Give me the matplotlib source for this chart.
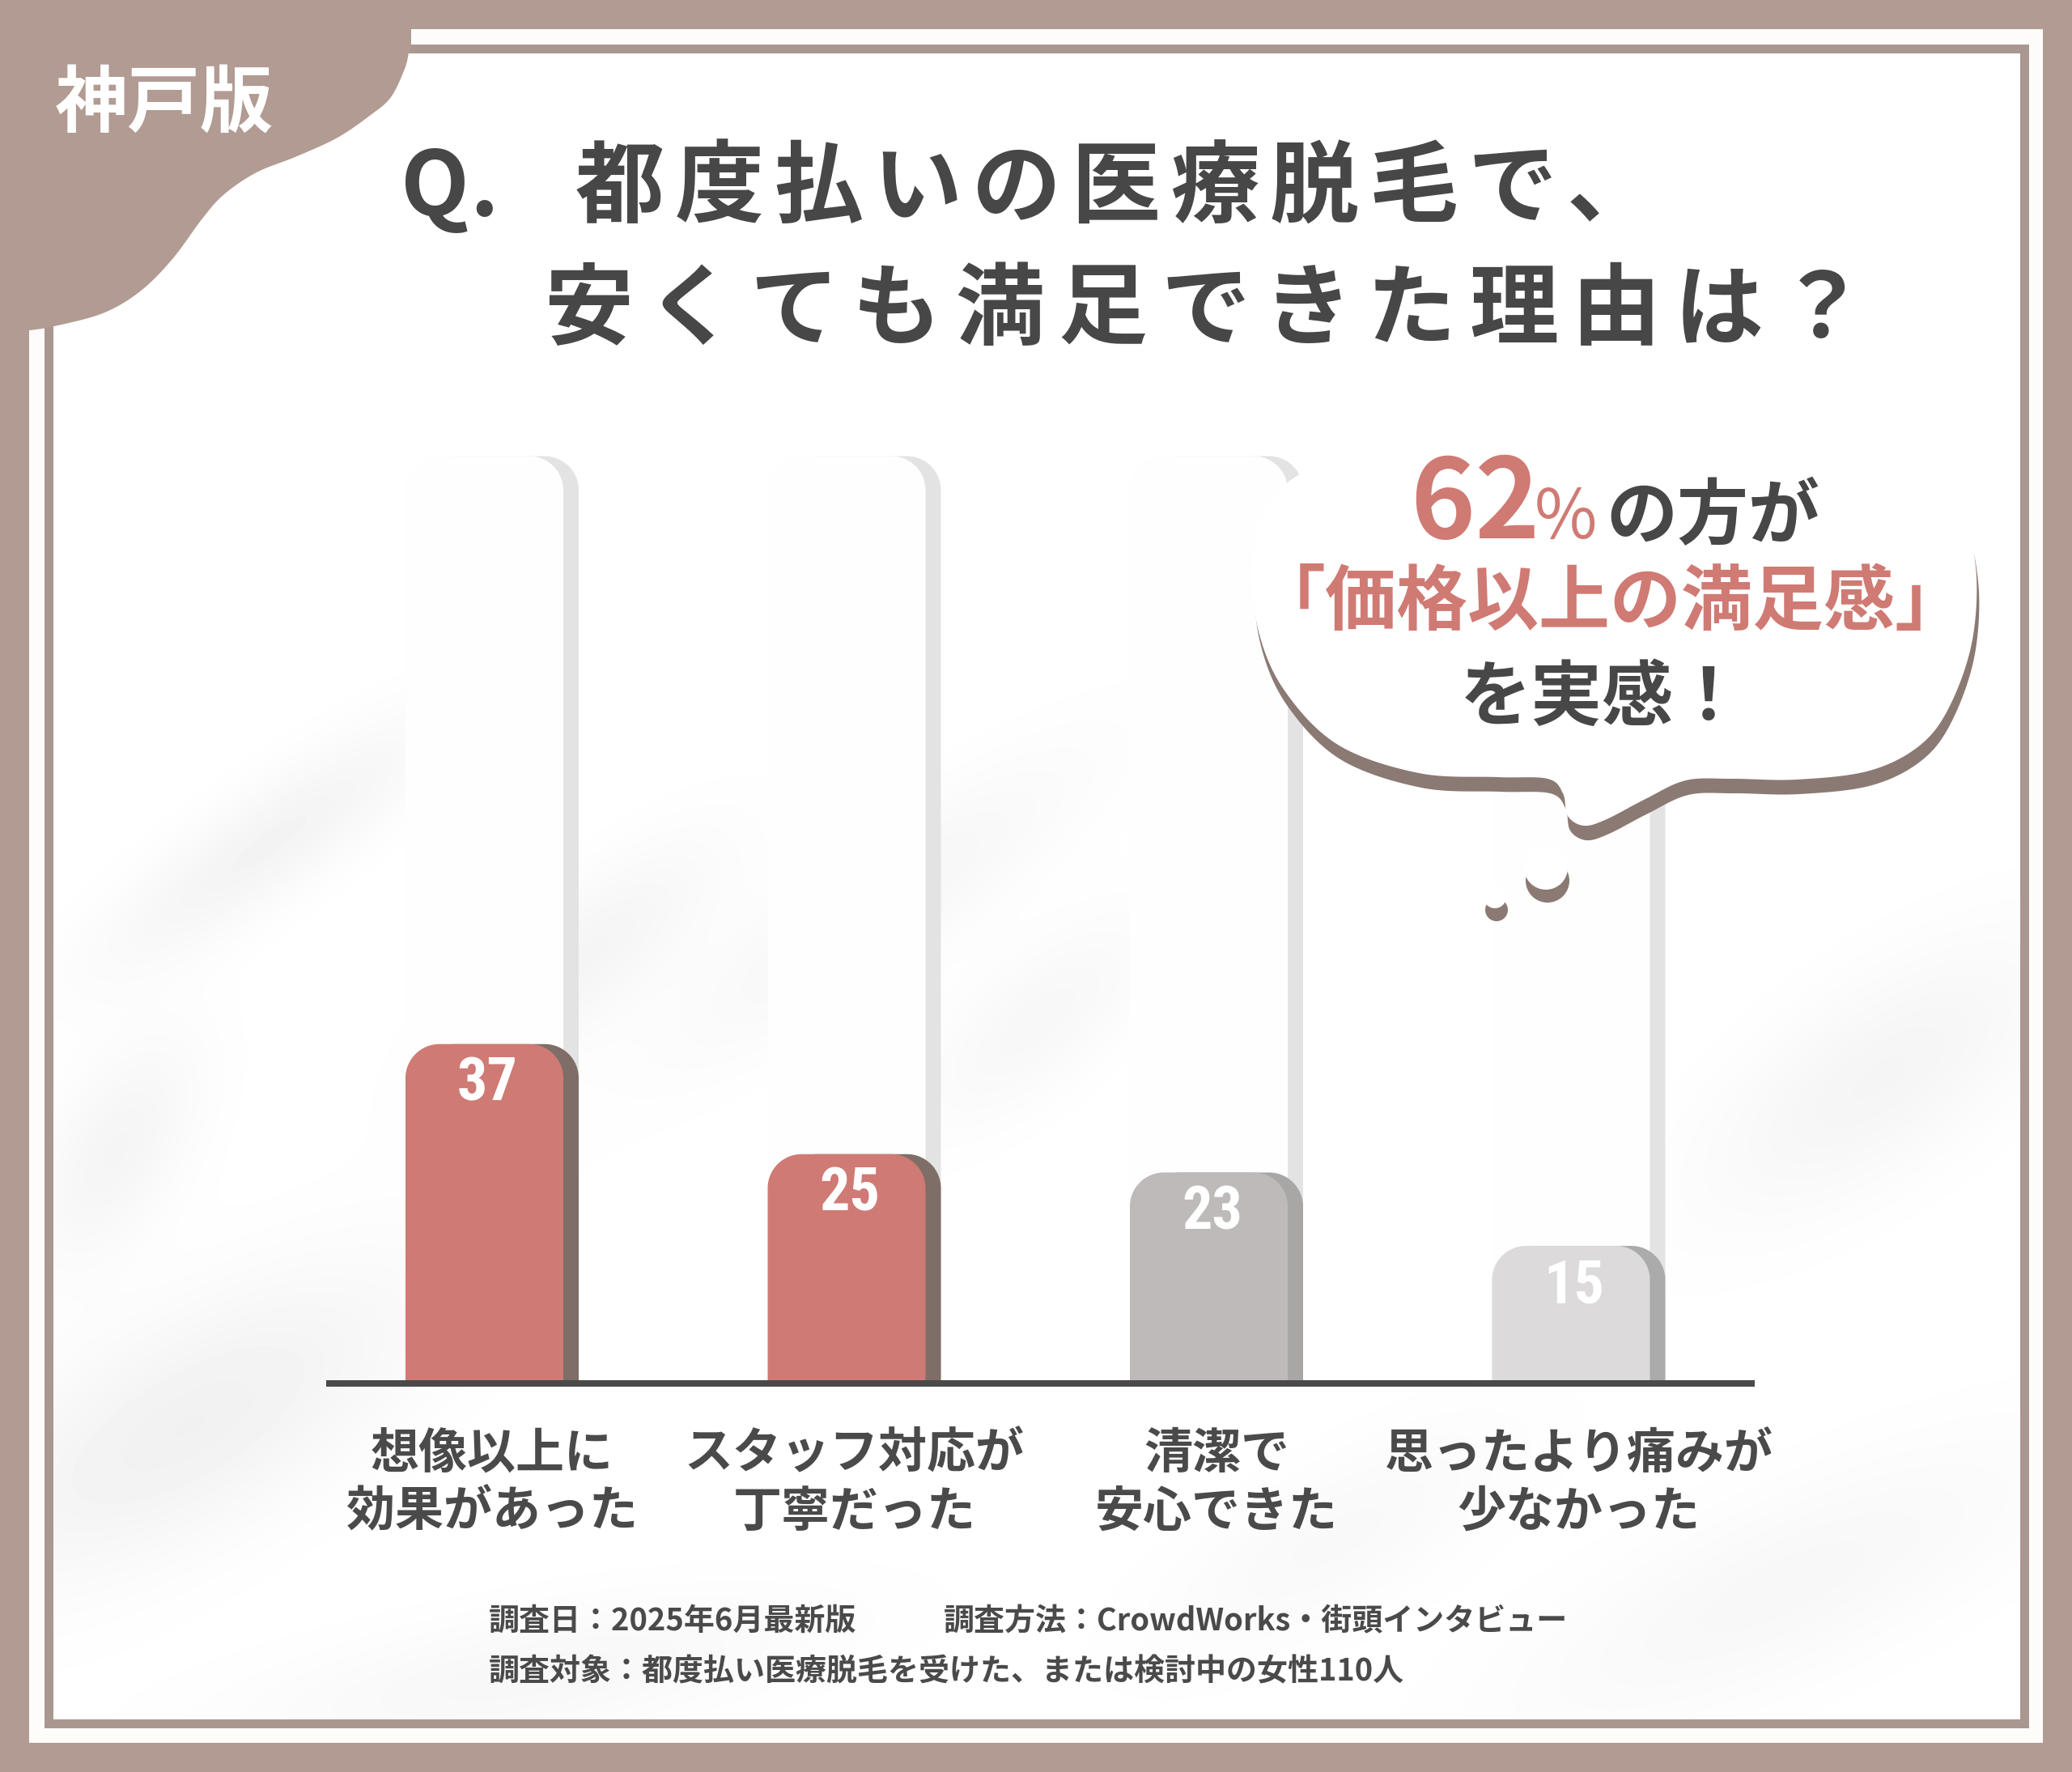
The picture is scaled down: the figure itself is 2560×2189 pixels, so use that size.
import numpy as np
import matplotlib
matplotlib.use("Agg")
import matplotlib.pyplot as plt
from matplotlib.patches import Polygon, Rectangle, PathPatch, Circle
from matplotlib.path import Path
from matplotlib import transforms
from matplotlib import font_manager as fm

plt.rcParams['font.family'] = ['Noto Sans CJK JP', 'DejaVu Sans']

# ---------------- DATA ----------------
cat_line1 = ["想像以上に", "スタッフ対応が", "清潔で", "思ったより痛みが"]
cat_line2 = ["効果があった", "丁寧だった", "安心できた", "少なかった"]
values = [37, 25, 23, 15]
bar_faces = ['#CF7A74', '#CF7A74', '#BDBAB9', '#DCDADA']
bar_sides = ['#7E6E67', '#7E6E67', '#A9A7A6', '#ABABAB']

badge = "神戸版"
title_line1 = ["Q", ".", "都", "度", "払", "い", "の", "医", "療", "脱", "毛", "で", "、"]
title_line2 = list("安くても満足できた理由は？")
callout_pct = "62"
callout_sign = "%"
callout_l1 = "の方が"
callout_l2 = "「価格以上の満足感」"
callout_l3 = "を実感！"
footer_l1a = "調査日：2025年6月最新版"
footer_l1b = "調査方法：CrowdWorks・街頭インタビュー"
footer_l2 = "調査対象：都度払い医療脱毛を受けた、または検討中の女性110人"

# ---------------- STYLE ----------------
W, H, DPI = 2560, 2189, 100
BROWN = '#B19B92'
LINE_BROWN = '#AA978F'
DARK = '#474747'
SALMON = '#D07A74'
SHADOW = '#8B7A73'


def pt(pxv):
    return pxv * 72.0 / DPI


def find_narrow():
    cands = [dict(family='Liberation Sans Narrow', weight='bold'),
             dict(family='Roboto Condensed', weight='bold'),
             dict(family='DejaVu Sans', stretch='condensed', weight='bold')]
    for c in cands:
        try:
            f = fm.findfont(fm.FontProperties(**c), fallback_to_default=False)
            name = f.lower()
            if 'narrow' in name or 'condensed' in name:
                return f
        except Exception:
            pass
    return None


NARROW_FILE = find_narrow()
if NARROW_FILE:
    NUM_PROPS = dict(fontproperties=fm.FontProperties(fname=NARROW_FILE, size=pt(74)))
else:
    NUM_PROPS = dict(fontsize=pt(74), fontweight='bold')


def catmull(points, closed=True, n=24):
    P = np.asarray(points, float)
    if closed:
        P = np.vstack([P[-1], P, P[0], P[1]])
    else:
        P = np.vstack([P[0], P, P[-1]])
    out = []
    t = np.linspace(0, 1, n, endpoint=False)[:, None]
    for i in range(1, len(P) - 2):
        p0, p1, p2, p3 = P[i - 1], P[i], P[i + 1], P[i + 2]
        out.append(0.5 * ((2 * p1) + (-p0 + p2) * t + (2 * p0 - 5 * p1 + 4 * p2 - p3) * t ** 2
                          + (-p0 + 3 * p1 - 3 * p2 + p3) * t ** 3))
    out = np.vstack(out)
    if not closed:
        out = np.vstack([out, P[-2]])
    return out


fig = plt.figure(figsize=(W / DPI, H / DPI), dpi=DPI)
fig.patch.set_facecolor(BROWN)

# ---------------- background axes (pixel coords, y down) ----------------
ax_bg = fig.add_axes([0, 0, 1, 1])
ax_bg.set_xlim(0, W)
ax_bg.set_ylim(H, 0)
ax_bg.axis('off')

ax_bg.add_patch(Rectangle((36, 36), 2488, 2117, facecolor='#FDFCFB', edgecolor='none', zorder=0))

# soft brush texture inside the inner panel
gx = np.arange(65, 2495, 5)
gy = np.arange(65, 2123, 5)
X, Y = np.meshgrid(gx, gy)
strokes = [
    (330, 1040, 520, 130, 35, 0.045),
    (720, 1180, 420, 150, 40, 0.04),
    (1080, 1120, 620, 160, 35, 0.035),
    (230, 1760, 650, 260, 30, 0.055),
    (140, 1420, 320, 160, 60, 0.04),
    (1280, 1260, 380, 160, 40, 0.03),
    (2320, 1330, 520, 220, 35, 0.04),
    (2200, 1960, 750, 220, 25, 0.03),
    (650, 2070, 750, 160, 10, 0.03),
    (1650, 1900, 500, 180, 30, 0.025),
]
shade = np.zeros_like(X, dtype=float)
for cx, cy, L, Wd, ang, amp in strokes:
    th = np.deg2rad(ang)
    dx = X - cx
    dy = Y - cy
    u = dx * np.cos(th) - dy * np.sin(th)
    v = dx * np.sin(th) + dy * np.cos(th)
    shade += amp * np.exp(-(u / (L / 2)) ** 2 - (v / (Wd / 2)) ** 2)
ax_bg.imshow(1 - shade, cmap='gray', vmin=0, vmax=1, extent=(65, 2495, 2123, 65),
             interpolation='bilinear', aspect='auto', zorder=1)
ax_bg.set_xlim(0, W)
ax_bg.set_ylim(H, 0)

# inner frame line
ax_bg.add_patch(Rectangle((59.5, 59.5), 2441, 2069, facecolor='none', edgecolor=LINE_BROWN,
                          linewidth=pt(11), zorder=3))

# ---------------- bar axes ----------------
AX_L, AX_R, AX_B, AX_T = 403, 2168, 1709, 560
PX_X, X0, PX_Y = 447.5, 608, 11.33
BAR_W, SIDE_W, RAD = 214, 19, 42
TRACK_TOP = 101.1

ax = fig.add_axes([AX_L / W, (H - AX_B) / H, (AX_R - AX_L) / W, (AX_B - AX_T) / H])
ax.set_xlim((AX_L - X0) / PX_X, (AX_R - X0) / PX_X)
ax.set_ylim(0, (AX_B - AX_T) / PX_Y)
ax.axis('off')
ax.patch.set_alpha(0)

rx, ry = RAD / PX_X, RAD / PX_Y
k = 0.5523


def round_top(x0, x1, y0, y1):
    verts = [(x0, y0), (x0, y1 - ry), (x0, y1 - ry + k * ry), (x0 + rx - k * rx, y1), (x0 + rx, y1),
             (x1 - rx, y1), (x1 - rx + k * rx, y1), (x1, y1 - ry + k * ry), (x1, y1 - ry),
             (x1, y0), (x0, y0)]
    codes = [Path.MOVETO, Path.LINETO, Path.CURVE4, Path.CURVE4, Path.CURVE4, Path.LINETO,
             Path.CURVE4, Path.CURVE4, Path.CURVE4, Path.LINETO, Path.CLOSEPOLY]
    return Path(verts, codes)


xs = np.arange(len(values))
bw = BAR_W / PX_X
sw = SIDE_W / PX_X
bars = ax.bar(xs, values, width=bw, color='none', edgecolor='none')
for i, rect in enumerate(bars):
    x0 = rect.get_x()
    x1 = x0 + rect.get_width()
    h = rect.get_height()
    # background track
    ax.add_patch(PathPatch(round_top(x0 + sw, x1, 0, TRACK_TOP), facecolor='#E3E3E3',
                           edgecolor='none', zorder=1))
    ax.add_patch(PathPatch(round_top(x0, x1 - sw, 0, TRACK_TOP), facecolor='#FEFEFE',
                           edgecolor='none', zorder=1.1))
    # bar side + face
    ax.add_patch(PathPatch(round_top(x0 + sw, x1, 0, h), facecolor=bar_sides[i],
                           edgecolor='none', zorder=2))
    ax.add_patch(PathPatch(round_top(x0, x1 - sw, 0, h), facecolor=bar_faces[i],
                           edgecolor='none', zorder=3))
    ax.text(x0 + (bw - sw) / 2 + 4 / PX_X, h - 50 / PX_Y, str(values[i]), ha='center', va='center',
            color='white', zorder=4, **NUM_PROPS)

ax.axhline(0, color='#4A4A4A', lw=pt(8), zorder=5, clip_on=False, solid_capstyle='butt')

# ---------------- top overlay axes ----------------
ax_top = fig.add_axes([0, 0, 1, 1])
ax_top.set_xlim(0, W)
ax_top.set_ylim(H, 0)
ax_top.axis('off')
ax_top.patch.set_alpha(0)

# category labels (x from bar data coordinates, y in pixels)
blend = transforms.blended_transform_factory(ax.transData, ax_top.transData)
for i in range(len(values)):
    ax.text(xs[i], 1796, cat_line1[i], transform=blend, ha='center', va='center',
            fontsize=pt(60), fontweight='bold', color='#4A4A4A', clip_on=False)
    ax.text(xs[i], 1868, cat_line2[i], transform=blend, ha='center', va='center',
            fontsize=pt(60), fontweight='bold', color='#4A4A4A', clip_on=False)

# corner blob
curve = [(505, 65), (500, 85), (483, 120), (458, 142), (417, 170), (367, 193), (317, 213),
         (277, 240), (250, 270), (213, 320), (173, 360), (127, 387), (67, 403), (37, 408)]
cpts = catmull(curve, closed=False, n=16)
blob = np.vstack([[(0, 0), (508, 0), (508, 60)], cpts, [(0, 410)]])
ax_top.add_patch(Polygon(blob, closed=True, facecolor=BROWN, edgecolor='none', zorder=5))
ax_top.text(203, 156, badge, ha='center', va='baseline', color='white',
            fontsize=pt(90), fontweight='bold', zorder=6)

# title
TFS = 110
x1c = [537, 598] + [766 + 122.5 * j for j in range(len(title_line1) - 2)]
for ch, xc in zip(title_line1, x1c):
    ax_top.text(xc, 266, ch, ha='center', va='baseline', color=DARK, fontsize=pt(TFS),
                fontweight='bold', zorder=6)
for j, ch in enumerate(title_line2):
    ax_top.text(727 + 127 * j, 417, ch, ha='center', va='baseline', color=DARK, fontsize=pt(TFS),
                fontweight='bold', zorder=6)

# speech bubble
bubble_pts = [(1995, 535), (2200, 546), (2350, 582), (2420, 632), (2441, 700), (2437, 790),
              (2410, 870), (2373, 920), (2310, 952), (2220, 963), (2140, 962), (2083, 964),
              (2033, 987), (1985, 1012), (1957, 1020), (1937, 1008), (1931, 980), (1912, 962),
              (1850, 960), (1753, 955), (1653, 920), (1587, 853), (1555, 780), (1547, 700),
              (1562, 630), (1625, 577), (1780, 545)]
bpath = catmull(bubble_pts, closed=True, n=20)
ax_top.add_patch(Polygon(bpath + np.array([3, 18]), closed=True, facecolor=SHADOW,
                         edgecolor='none', zorder=3))
ax_top.add_patch(Polygon(bpath, closed=True, facecolor='white', edgecolor='none', zorder=4))
for (cx, cy, r) in [(1910, 1072, 27), (1847, 1108, 14)]:
    ax_top.add_patch(Circle((cx + 2, cy + 16), r, facecolor=SHADOW, edgecolor='none', zorder=3))
    ax_top.add_patch(Circle((cx, cy), r, facecolor='white', edgecolor='none', zorder=4))

ax_top.text(1742, 665, callout_pct, ha='left', va='baseline', color=SALMON, fontsize=pt(136),
            fontweight='bold', zorder=6)
ax_top.text(1934, 665, callout_sign, ha='center', va='baseline', color=SALMON, fontsize=pt(84),
            fontweight='regular', zorder=6)
ax_top.text(1984, 665, callout_l1, ha='left', va='baseline', color=DARK, fontsize=pt(88),
            fontweight='bold', zorder=6)
ax_top.text(1990, 771, callout_l2, ha='center', va='baseline', color=SALMON, fontsize=pt(88),
            fontweight='bold', zorder=6)
ax_top.text(1980, 889, callout_l3, ha='center', va='baseline', color=DARK, fontsize=pt(88),
            fontweight='bold', zorder=6)

# footer
ax_top.text(604, 2014, footer_l1a, ha='left', va='baseline', color='#4A4A4A', fontsize=pt(38),
            fontweight='bold', zorder=6)
ax_top.text(1166, 2014, footer_l1b, ha='left', va='baseline', color='#4A4A4A', fontsize=pt(38),
            fontweight='bold', zorder=6)
ax_top.text(604, 2076, footer_l2, ha='left', va='baseline', color='#4A4A4A', fontsize=pt(38),
            fontweight='bold', zorder=6)

fig.savefig('out.png', dpi=DPI, facecolor=fig.get_facecolor())
